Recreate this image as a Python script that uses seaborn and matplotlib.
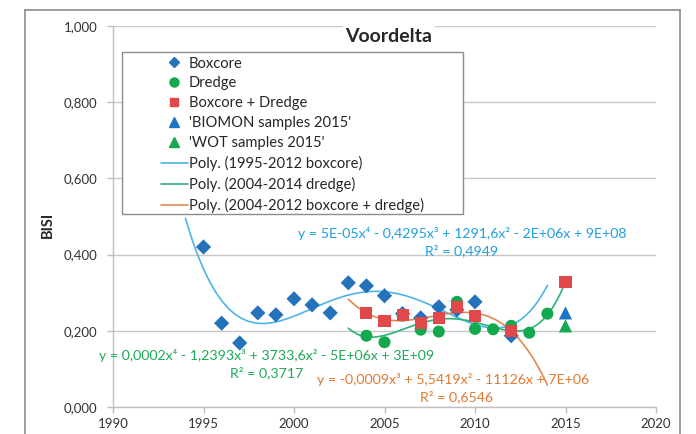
import numpy as np
import pandas as pd
import matplotlib
matplotlib.use("Agg")
import matplotlib.pyplot as plt
import seaborn as sns
from matplotlib.patches import Rectangle
from matplotlib.lines import Line2D
from matplotlib.ticker import FuncFormatter

# data
box_years = [1995, 1996, 1997, 1998, 1999, 2000, 2001, 2002, 2003, 2004, 2005, 2006, 2007, 2008, 2009, 2010, 2012]
box_bisi = [0.420, 0.220, 0.168, 0.247, 0.242, 0.284, 0.268, 0.247, 0.326, 0.318, 0.292, 0.245, 0.234, 0.263, 0.255, 0.276, 0.187]

dredge_years = [2004, 2005, 2006, 2007, 2008, 2009, 2010, 2011, 2012, 2013, 2014]
dredge_bisi = [0.187, 0.170, 0.240, 0.203, 0.198, 0.276, 0.205, 0.204, 0.213, 0.195, 0.245]

both_years = [2004, 2005, 2006, 2007, 2008, 2009, 2010, 2012, 2015]
both_bisi = [0.247, 0.225, 0.242, 0.220, 0.234, 0.263, 0.240, 0.200, 0.327]

biomon_years = [2015]
biomon_bisi = [0.247]
wot_years = [2015]
wot_bisi = [0.213]

eq_box = "y = 5E-05x\u2074 - 0,4295x\u00b3 + 1291,6x\u00b2 - 2E+06x + 9E+08"
r2_box = "R\u00b2 = 0,4949"
eq_dredge = "y = 0,0002x\u2074 - 1,2393x\u00b3 + 3733,6x\u00b2 - 5E+06x + 3E+09"
r2_dredge = "R\u00b2 = 0,3717"
eq_both = "y = -0,0009x\u00b3 + 5,5419x\u00b2 - 11126x + 7E+06"
r2_both = "R\u00b2 = 0,6546"

sns.set_theme(style="white")
plt.rcParams['font.family'] = ['Lato', 'DejaVu Sans']

W, H = 696, 434
fig = plt.figure(figsize=(W / 100, H / 100), dpi=100)
ax = fig.add_axes([113 / W, 1 - 407 / H, 543 / W, 381 / H])

c_box = "#2473BA"
c_dredge = "#12A84E"
c_both = "#E0484B"
c_biomon = "#1C74C8"
c_wot = "#14A850"
c_lbox = "#4CB4E8"
c_ldredge = "#2DB276"
c_lboth = "#E08A50"


def fit_line(xs, ys, deg, x0, x1):
    xs = np.array(xs, dtype=float)
    p = np.polyfit(xs - 2005, ys, deg)
    xx = np.linspace(x0, x1, 300)
    return xx, np.polyval(p, xx - 2005)


# trendlines (polynomial, as in the original spreadsheet)
bx = [x for x in box_years if x <= 2012]
by = [v for x, v in zip(box_years, box_bisi) if x <= 2012]
xx, yy = fit_line(bx, by, 4, 1994, 2014)
sns.lineplot(x=xx, y=yy, ax=ax, color=c_lbox, lw=1.2, zorder=2)
xx, yy = fit_line(dredge_years, dredge_bisi, 4, 2003, 2015)
sns.lineplot(x=xx, y=yy, ax=ax, color=c_ldredge, lw=1.2, zorder=2)
oy = [v for x, v in zip(both_years, both_bisi) if x <= 2012]
ox = [x for x in both_years if x <= 2012]
xx, yy = fit_line(ox, oy, 3, 2003, 2014)
sns.lineplot(x=xx, y=yy, ax=ax, color=c_lboth, lw=1.2, zorder=2)

sns.scatterplot(x=box_years, y=box_bisi, ax=ax, marker="D", s=60, color=c_box, edgecolor="none", zorder=3)
sns.scatterplot(x=dredge_years, y=dredge_bisi, ax=ax, marker="o", s=75, color=c_dredge, edgecolor="none", zorder=3)
sns.scatterplot(x=both_years, y=both_bisi, ax=ax, marker="s", s=75, color=c_both, edgecolor="none", zorder=4)
sns.scatterplot(x=biomon_years, y=biomon_bisi, ax=ax, marker="^", s=90, color=c_biomon, edgecolor="none", zorder=3)
sns.scatterplot(x=wot_years, y=wot_bisi, ax=ax, marker="^", s=90, color=c_wot, edgecolor="none", zorder=3)

ax.set_xlim(1990, 2020)
ax.set_ylim(0, 1.0)
ax.set_xticks(range(1990, 2021, 5))
ax.set_yticks(np.arange(0, 1.01, 0.2))
ax.yaxis.set_major_formatter(FuncFormatter(lambda v, p: f"{v:.3f}".replace(".", ",")))
ax.grid(axis="y", color="#C8C8C8", lw=1)
ax.set_axisbelow(True)
for s in ["top", "right"]:
    ax.spines[s].set_visible(False)
for s in ["left", "bottom"]:
    ax.spines[s].set_color("#BFBFBF")
    ax.spines[s].set_linewidth(1)
ax.tick_params(axis="both", length=4, width=1, color="#BFBFBF", labelsize=9.5, labelcolor="#333333",
               direction="out", bottom=True, left=True)
ax.tick_params(axis="y", pad=7)
ax.tick_params(axis="x", pad=4)
ax.set_xlabel("")
ax.set_ylabel("")

fig.text(48 / W, 1 - 225 / H, "BISI", rotation=90, ha="center", va="center", fontsize=10.5, fontweight="bold")
fig.text(389 / W, 1 - 37 / H, "Voordelta", ha="center", va="center", fontsize=14, fontweight="bold",
         bbox=dict(facecolor="white", edgecolor="none", pad=2), zorder=6)

# equation labels
fig.text(462 / W, 1 - 234 / H, eq_box, ha="center", va="center", fontsize=10.2, color="#1E9FE0")
fig.text(462 / W, 1 - 251 / H, r2_box, ha="center", va="center", fontsize=10.2, color="#1E9FE0")
fig.text(267 / W, 1 - 355 / H, eq_dredge, ha="center", va="center", fontsize=10.2, color="#1DAA58")
fig.text(267 / W, 1 - 373 / H, r2_dredge, ha="center", va="center", fontsize=10.2, color="#1DAA58")
fig.text(453 / W, 1 - 380 / H, eq_both, ha="center", va="center", fontsize=10.2, color="#E07A35")
fig.text(456 / W, 1 - 397 / H, r2_both, ha="center", va="center", fontsize=10.2, color="#E07A35")

# legend box
fig.patches.append(Rectangle((122 / W, 1 - 214 / H), 341 / W, 162 / H, transform=fig.transFigure,
                             facecolor="white", edgecolor="#8C8C8C", lw=1, zorder=4.5))
handles = [
    Line2D([], [], ls="none", marker="D", ms=5.5, color=c_box),
    Line2D([], [], ls="none", marker="o", ms=6.5, color=c_dredge),
    Line2D([], [], ls="none", marker="s", ms=6, color=c_both),
    Line2D([], [], ls="none", marker="^", ms=6.5, color=c_biomon),
    Line2D([], [], ls="none", marker="^", ms=6.5, color=c_wot),
    Line2D([], [], color=c_lbox, lw=1.2),
    Line2D([], [], color=c_ldredge, lw=1.2),
    Line2D([], [], color=c_lboth, lw=1.2),
]
labels = ["Boxcore", "Dredge", "Boxcore + Dredge", "'BIOMON samples 2015'", "'WOT samples 2015'",
          "Poly. (1995-2012 boxcore)", "Poly. (2004-2014 dredge)", "Poly. (2004-2012 boxcore + dredge)"]
leg = fig.legend(handles, labels, loc="upper left", bbox_to_anchor=(161 / W, 1 - 56.5 / H),
                 frameon=False, fontsize=10.6, handlelength=1.8, handletextpad=0.1, borderpad=0,
                 labelspacing=0.40, borderaxespad=0)
leg.set_zorder(5)

# outer chart border
for xs, ys in [([25, 25], [434, 10]), ([25, 680], [10, 10]), ([680, 680], [10, 434])]:
    fig.add_artist(Line2D([x / W for x in xs], [1 - y / H for y in ys], color="#8C8C8C", lw=1.2))

fig.savefig("out.png", dpi=100)
